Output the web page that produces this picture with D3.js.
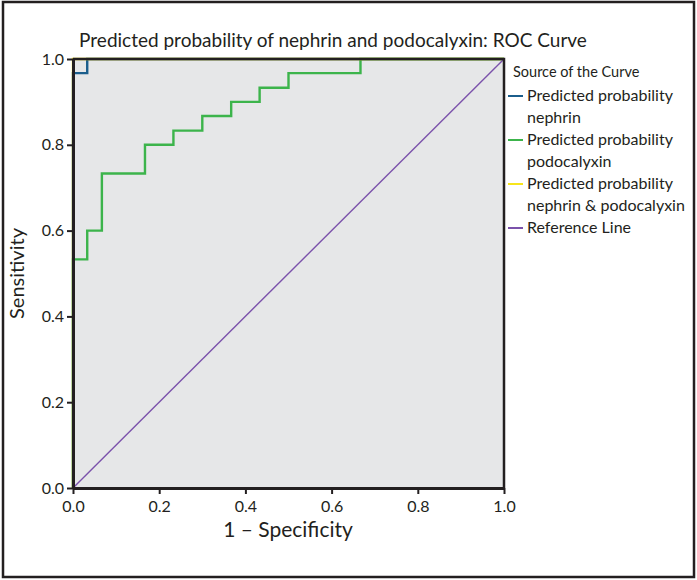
<!DOCTYPE html>
<html>
<head>
<meta charset="utf-8">
<script src="https://cdn.jsdelivr.net/npm/d3@7/dist/d3.min.js"></script>
<style>
  body { margin: 0; background: #fff; }
  svg text { font-family: Lato, "Open Sans", sans-serif; fill: #231f20; }
</style>
</head>
<body>
<div id="chart"></div>
<script>
// ROC points (1 - specificity, sensitivity)
const NEPHRIN_FPR = [0, 0, 0.033, 1];
const NEPHRIN_TPR = [0, 0.967, 1, 1];
const PODO_FPR = [0, 0, 0.033, 0.067, 0.167, 0.233, 0.3, 0.367, 0.433, 0.5, 0.667, 1];
const PODO_TPR = [0, 0.533, 0.6, 0.733, 0.8, 0.833, 0.867, 0.9, 0.933, 0.967, 1, 1];
const BOTH_FPR = [0, 0, 1];
const BOTH_TPR = [0, 1, 1];
const REF_FPR = [0, 1];
const REF_TPR = [0, 1];
const TICKS = [0, 0.2, 0.4, 0.6, 0.8, 1.0];
const LEGEND_NAMES = [
  ["Predicted probability", "nephrin"],
  ["Predicted probability", "podocalyxin"],
  ["Predicted probability", "nephrin & podocalyxin"],
  ["Reference Line"]
];
const COLORS = ["#1b5e8c", "#3cb44b", "#f7e51b", "#7b52ab"];

const WIDTH = 697;
const HEIGHT = 580;
const PLOT = { LEFT: 73, RIGHT: 504, TOP: 59, BOTTOM: 488 };

const SVG = d3.select("#chart").append("svg")
  .attr("width", WIDTH)
  .attr("height", HEIGHT);

// outer frame
SVG.append("rect")
  .attr("x", 3).attr("y", 2)
  .attr("width", 691).attr("height", 575)
  .attr("fill", "#fff")
  .attr("stroke", "#231f20")
  .attr("stroke-width", 2.5);

const X_SCALE = d3.scaleLinear().domain([0, 1]).range([PLOT.LEFT, PLOT.RIGHT]);
const Y_SCALE = d3.scaleLinear().domain([0, 1]).range([PLOT.BOTTOM, PLOT.TOP]);

SVG.append("rect")
  .attr("x", PLOT.LEFT).attr("y", PLOT.TOP)
  .attr("width", PLOT.RIGHT - PLOT.LEFT)
  .attr("height", PLOT.BOTTOM - PLOT.TOP)
  .attr("fill", "#e6e7e8");

const toPoints = (xs, ys) => xs.map((x, i) => [x, ys[i]]);
const SERIES = [
  toPoints(NEPHRIN_FPR, NEPHRIN_TPR),
  toPoints(PODO_FPR, PODO_TPR),
  toPoints(BOTH_FPR, BOTH_TPR)
];

const STEP_LINE = d3.line()
  .x((d) => X_SCALE(d[0]))
  .y((d) => Y_SCALE(d[1]))
  .curve(d3.curveStepAfter);

SVG.selectAll(".roc")
  .data(SERIES)
  .enter()
  .append("path")
  .attr("class", "roc")
  .attr("d", STEP_LINE)
  .attr("fill", "none")
  .attr("stroke", (d, i) => COLORS[i])
  .attr("stroke-width", 2.4);

SVG.append("path")
  .attr("d", d3.line().x((d) => X_SCALE(d[0])).y((d) => Y_SCALE(d[1]))(toPoints(REF_FPR, REF_TPR)))
  .attr("fill", "none")
  .attr("stroke", COLORS[3])
  .attr("stroke-width", 1.4);

// plot border: top and right
SVG.append("path")
  .attr("d", "M" + PLOT.LEFT + "," + PLOT.TOP + "H" + PLOT.RIGHT + "V" + PLOT.BOTTOM)
  .attr("fill", "none")
  .attr("stroke", "#231f20")
  .attr("stroke-width", 2.5);

const X_AXIS = d3.axisBottom(X_SCALE).tickValues(TICKS).tickFormat(d3.format(".1f"))
  .tickSize(6).tickSizeOuter(0).tickPadding(7);
const Y_AXIS = d3.axisLeft(Y_SCALE).tickValues(TICKS).tickFormat(d3.format(".1f"))
  .tickSize(6).tickSizeOuter(0).tickPadding(3);

const GX = SVG.append("g")
  .attr("transform", "translate(0," + PLOT.BOTTOM + ")")
  .call(X_AXIS);
const GY = SVG.append("g")
  .attr("transform", "translate(" + PLOT.LEFT + ",0)")
  .call(Y_AXIS);

[GX, GY].forEach((g) => {
  g.select(".domain").attr("stroke", "#231f20").attr("stroke-width", 3);
  g.selectAll(".tick line").attr("stroke", "#231f20").attr("stroke-width", 2);
  g.selectAll(".tick text")
    .style("font-family", "Lato, sans-serif")
    .style("font-size", "16px")
    .attr("fill", "#231f20");
});

SVG.append("text")
  .attr("x", 333).attr("y", 47)
  .attr("text-anchor", "middle")
  .style("font-size", "19px")
  .text("Predicted probability of nephrin and podocalyxin: ROC Curve");

SVG.append("text")
  .attr("x", 288).attr("y", 537)
  .attr("text-anchor", "middle")
  .style("font-size", "21px")
  .text("1 \u2013 Specificity");

SVG.append("text")
  .attr("transform", "translate(24," + (PLOT.TOP + PLOT.BOTTOM) / 2 + ") rotate(-90)")
  .attr("text-anchor", "middle")
  .style("font-size", "20px")
  .text("Sensitivity");

// legend
const LEGEND = SVG.append("g").attr("transform", "translate(508,0)");
LEGEND.append("text")
  .attr("x", 5).attr("y", 77)
  .style("font-size", "14.5px")
  .text("Source of the Curve");

let rowY = 101;
LEGEND_NAMES.forEach((lines, i) => {
  LEGEND.append("line")
    .attr("x1", 0).attr("x2", 15)
    .attr("y1", rowY - 5).attr("y2", rowY - 5)
    .attr("stroke", COLORS[i])
    .attr("stroke-width", 2);
  lines.forEach((t, j) => {
    LEGEND.append("text")
      .attr("x", 19).attr("y", rowY + j * 22)
      .style("font-size", "16px")
      .text(t);
  });
  rowY += lines.length * 22;
});
</script>
</body>
</html>
